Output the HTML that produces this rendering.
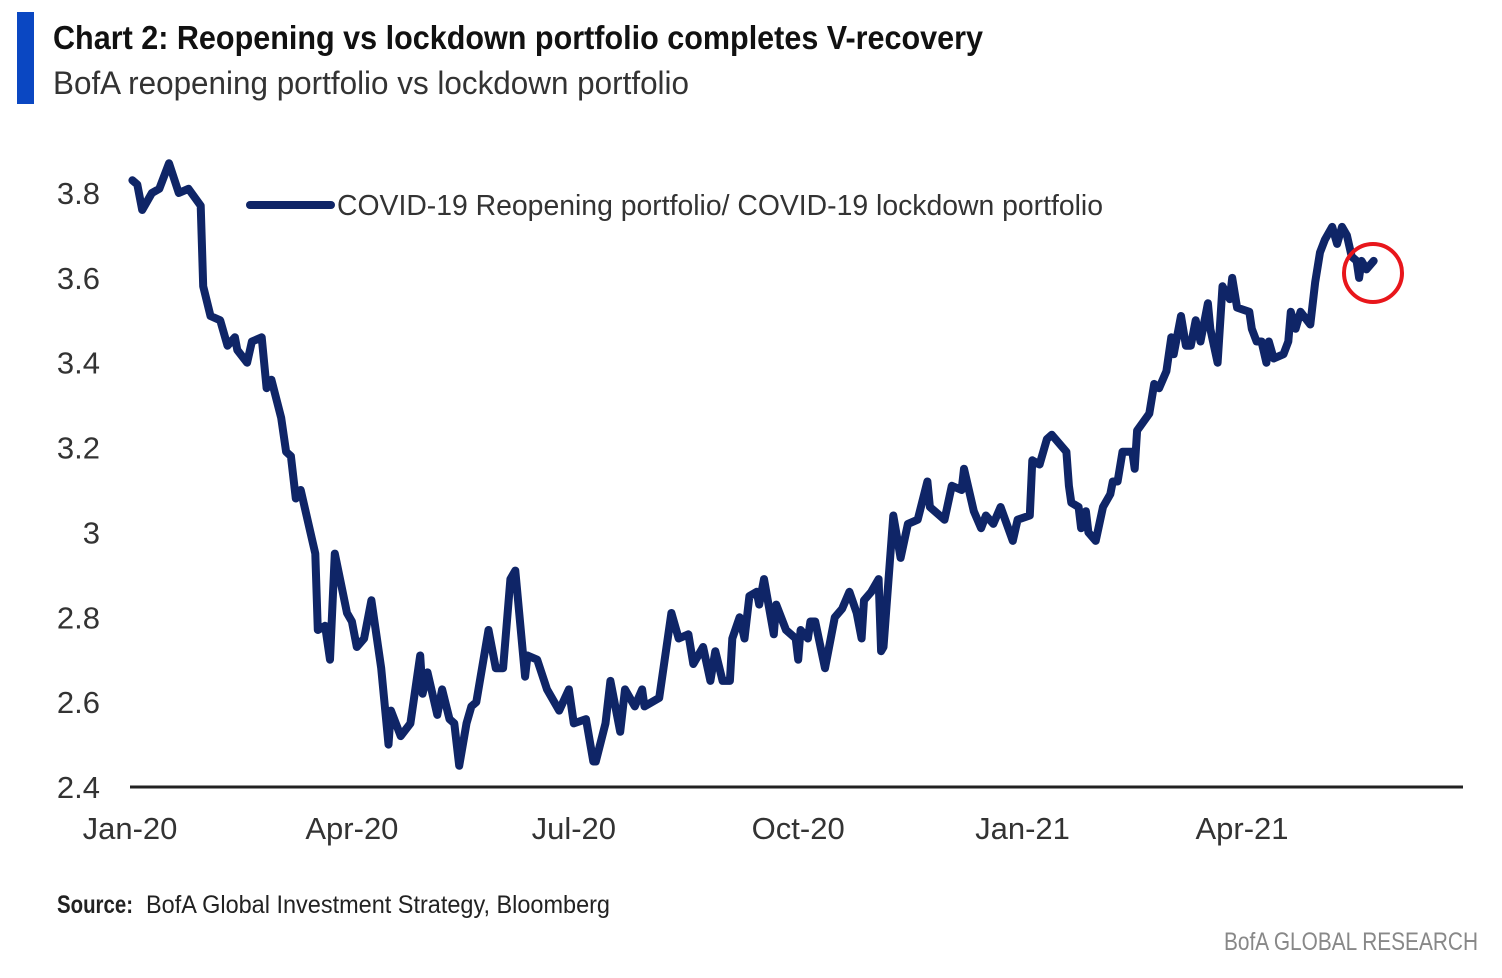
<!DOCTYPE html>
<html><head><meta charset="utf-8"><style>
html,body{margin:0;padding:0;background:#fff;}
svg{display:block;font-family:"Liberation Sans",sans-serif;}
</style></head><body>
<svg id="chart" width="1502" height="978" viewBox="0 0 1502 978" xmlns="http://www.w3.org/2000/svg">
<rect x="17" y="12" width="17" height="92" fill="#0a47c2"/>
<text x="53" y="49" font-size="33" font-weight="bold" fill="#111" textLength="930" lengthAdjust="spacingAndGlyphs">Chart 2: Reopening vs lockdown portfolio completes V-recovery</text>
<text x="53" y="94" font-size="32" fill="#333" textLength="636" lengthAdjust="spacingAndGlyphs">BofA reopening portfolio vs lockdown portfolio</text>
<g id="yaxis"></g>
<g id="xaxis"></g>
<line x1="130" y1="787" x2="1463" y2="787" stroke="#222" stroke-width="3"/>
<g id="series"></g>
<g>
<line x1="250" y1="205" x2="331" y2="205" stroke="#0f2567" stroke-width="8" stroke-linecap="round"/>
<text x="337" y="215" font-size="29" fill="#333" textLength="766" lengthAdjust="spacingAndGlyphs">COVID-19 Reopening portfolio/ COVID-19 lockdown portfolio</text>
</g>
<circle cx="1373" cy="273" r="29" fill="none" stroke="#e8161b" stroke-width="4"/>
<text x="57" y="913" font-size="25" fill="#222"><tspan font-weight="bold" textLength="76" lengthAdjust="spacingAndGlyphs">Source:</tspan><tspan x="146" textLength="464" lengthAdjust="spacingAndGlyphs">BofA Global Investment Strategy, Bloomberg</tspan></text>
<text x="1224" y="950" font-size="25" fill="#888" textLength="254" lengthAdjust="spacingAndGlyphs">BofA GLOBAL RESEARCH</text>
</svg>
<script>
const days = [1,3,5,9,12,16,20,24,29,30,33,37,40,43,44,48,50,54,56,58,62,64,66,68,70,76,77,80,82,84,89,91,93,96,99,103,106,107,111,115,119,120,122,126,128,131,133,135,138,140,142,147,150,153,156,158,162,163,167,171,176,180,182,187,190,191,195,197,201,203,207,210,211,217,222,225,229,231,235,238,240,243,246,247,250,252,254,257,258,260,264,265,269,273,274,275,278,279,281,285,289,292,295,298,300,301,304,307,308,309,313,316,319,323,327,328,334,337,341,342,346,349,351,354,357,362,364,369,370,373,376,378,384,385,386,389,390,392,393,396,399,402,403,405,407,411,412,413,418,420,422,425,427,428,431,433,435,437,439,442,443,446,448,451,452,454,459,460,462,464,466,467,469,473,475,476,478,480,484,486,488,490,493,495,497,499,501,503,504,505,507,510];
const values = [3.83,3.82,3.76,3.80,3.81,3.87,3.80,3.81,3.77,3.58,3.51,3.50,3.44,3.46,3.43,3.40,3.45,3.46,3.34,3.36,3.27,3.19,3.18,3.08,3.10,2.95,2.77,2.78,2.70,2.95,2.81,2.79,2.73,2.75,2.84,2.68,2.50,2.58,2.52,2.55,2.71,2.62,2.67,2.57,2.63,2.56,2.55,2.45,2.55,2.59,2.60,2.77,2.68,2.68,2.89,2.91,2.66,2.71,2.70,2.63,2.58,2.63,2.55,2.56,2.46,2.46,2.55,2.65,2.53,2.63,2.59,2.63,2.59,2.61,2.81,2.75,2.76,2.69,2.73,2.65,2.72,2.65,2.65,2.75,2.80,2.75,2.85,2.86,2.83,2.89,2.76,2.83,2.77,2.75,2.70,2.77,2.75,2.79,2.79,2.68,2.80,2.82,2.86,2.81,2.75,2.84,2.86,2.89,2.72,2.73,3.04,2.94,3.02,3.03,3.12,3.06,3.03,3.11,3.10,3.15,3.05,3.01,3.04,3.02,3.06,2.98,3.03,3.04,3.17,3.16,3.22,3.23,3.19,3.11,3.07,3.06,3.01,3.05,3.00,2.98,3.06,3.09,3.12,3.12,3.19,3.19,3.15,3.24,3.28,3.35,3.34,3.38,3.46,3.42,3.51,3.44,3.44,3.50,3.45,3.54,3.48,3.40,3.58,3.55,3.60,3.53,3.52,3.48,3.45,3.45,3.40,3.45,3.41,3.42,3.45,3.52,3.48,3.52,3.49,3.59,3.66,3.69,3.72,3.68,3.72,3.70,3.65,3.64,3.60,3.64,3.62,3.64];
const yTicks = [2.4,2.6,2.8,3,3.2,3.4,3.6,3.8];
const yTickLabels = ["2.4","2.6","2.8","3","3.2","3.4","3.6","3.8"];
const xTickDays = [0,91,182,274,366,456];
const xTickLabels = ["Jan-20","Apr-20","Jul-20","Oct-20","Jan-21","Apr-21"];

const NS = "http://www.w3.org/2000/svg";
function xScale(d){ return 130 + d * (1242 - 130) / 456; }
function yScale(v){ return 787 - (v - 2.4) * (787 - 193) / 1.4; }

const yG = document.getElementById('yaxis');
yTicks.forEach((t,i)=>{
  const tx = document.createElementNS(NS,'text');
  
  
  tx.setAttribute('x', 100);
  tx.setAttribute('y', yScale(t) + 11);
  tx.setAttribute('text-anchor','end');
  tx.setAttribute('font-size','31');
  tx.setAttribute('fill','#333');
  tx.textContent = yTickLabels[i];
  yG.appendChild(tx);
});
const xG = document.getElementById('xaxis');
xTickDays.forEach((d,i)=>{
  const tx = document.createElementNS(NS,'text');
  
  
  tx.setAttribute('x', xScale(d));
  tx.setAttribute('y', 839);
  tx.setAttribute('text-anchor','middle');
  tx.setAttribute('font-size','31');
  tx.setAttribute('fill','#333');
  tx.textContent = xTickLabels[i];
  xG.appendChild(tx);
});
const pts = days.map((d,i)=> xScale(d).toFixed(1) + ',' + yScale(values[i]).toFixed(1)).join(' ');
const pl = document.createElementNS(NS,'polyline');


pl.setAttribute('points', pts);
pl.setAttribute('fill','none');
pl.setAttribute('stroke','#0f2567');
pl.setAttribute('stroke-width','8');
pl.setAttribute('stroke-linejoin','round');
pl.setAttribute('stroke-linecap','round');
document.getElementById('series').appendChild(pl);
</script>
</body></html>
